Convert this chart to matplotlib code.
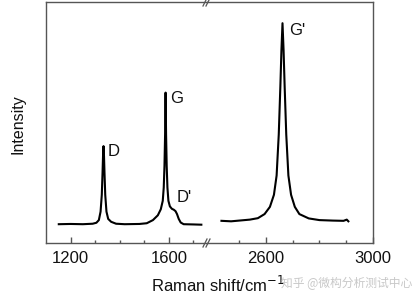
import matplotlib
matplotlib.use("Agg")
import matplotlib.pyplot as plt
from matplotlib.ticker import FixedLocator

plt.rcParams['font.family'] = ['Liberation Sans', 'DejaVu Sans']

# Left segment of spectrum (D, G, D' bands)
left_x = [1152, 1200, 1250, 1290, 1305, 1315, 1322, 1327, 1330, 1332, 1334, 1336, 1338,
          1341, 1346, 1353, 1365, 1385, 1420, 1480, 1510, 1535, 1555, 1567, 1575, 1579,
          1582, 1584.5, 1586.5, 1588.5, 1591, 1594, 1598, 1604, 1612, 1620, 1627, 1633,
          1640, 1648, 1660, 1700, 1732]
left_y = [0.078, 0.079, 0.078, 0.080, 0.084, 0.095, 0.13, 0.20, 0.29, 0.36, 0.402, 0.36, 0.29,
          0.20, 0.13, 0.10, 0.088, 0.080, 0.078, 0.079, 0.082, 0.095, 0.115, 0.14, 0.175, 0.23,
          0.32, 0.45, 0.624, 0.45, 0.32, 0.23, 0.175, 0.152, 0.142, 0.138, 0.132, 0.12,
          0.10, 0.085, 0.078, 0.077, 0.076]

# Right segment of spectrum (G' band)
right_x = [2434, 2470, 2500, 2540, 2570, 2595, 2615, 2630, 2640, 2648, 2654, 2658, 2662,
           2666, 2670, 2676, 2684, 2694, 2708, 2725, 2760, 2800, 2850, 2890, 2902, 2908]
right_y = [0.092, 0.090, 0.093, 0.097, 0.103, 0.12, 0.15, 0.20, 0.28, 0.45, 0.65, 0.80, 0.912,
           0.80, 0.65, 0.45, 0.28, 0.20, 0.15, 0.12, 0.102, 0.095, 0.093, 0.092, 0.097, 0.090]

left_major = [1200, 1600]
left_minor = [1300, 1400, 1500, 1700]
right_major = [2600, 3000]
right_minor = [2500, 2700, 2800, 2900]

# Peak labels: (text, x, y)
left_labels = [("D", 1350, 0.38), ("G", 1603, 0.60), ("D'", 1632, 0.19)]
right_labels = [("G'", 2688, 0.88)]

fig = plt.figure(figsize=(4.16, 3.02), dpi=100)
W, H = 416, 302
x0, xb, x1 = 46, 207, 373
ytop, ybot = 2, 243
bottom = (H - ybot) / H
height = (ybot - ytop) / H
axL = fig.add_axes([x0 / W, bottom, (xb - x0) / W, height])
axR = fig.add_axes([xb / W, bottom, (x1 - xb) / W, height])

spine_c = '#555555'
for ax in (axL, axR):
    ax.set_ylim(0, 1)
    ax.set_yticks([])
    for s in ax.spines.values():
        s.set_color(spine_c)
        s.set_linewidth(1.0)
    ax.tick_params(axis='x', which='both', direction='in', colors=spine_c,
                   labelcolor='#111111', labelsize=12, pad=6)
    ax.tick_params(axis='x', which='major', length=4, width=1.0)
    ax.tick_params(axis='x', which='minor', length=2.5, width=1.0)
    ax.patch.set_visible(False)

axL.spines['right'].set_visible(False)
axR.spines['left'].set_visible(False)

axL.plot(left_x, left_y, color='black', lw=1.5)
axR.plot(right_x, right_y, color='black', lw=1.5)
axL.set_xlim(1100, 1755)
axR.set_xlim(2380, 3000)

axL.xaxis.set_major_locator(FixedLocator(left_major))
axL.xaxis.set_minor_locator(FixedLocator(left_minor))
axR.xaxis.set_major_locator(FixedLocator(right_major))
axR.xaxis.set_minor_locator(FixedLocator(right_minor))
axL.set_xticklabels([str(v) for v in left_major])
axR.set_xticklabels([str(v) for v in right_major])

for t, x, y in left_labels:
    axL.text(x, y, t, fontsize=12, color='#111111', va='center', ha='left')
for t, x, y in right_labels:
    axR.text(x, y, t, fontsize=12, color='#111111', va='center', ha='left')

# Break marks
for yy in (ytop, ybot):
    for dx in (-2, 1):
        fig.add_artist(plt.Line2D([(xb + dx - 2) / W, (xb + dx + 2) / W],
                                  [(H - yy - 4) / H, (H - yy + 4) / H],
                                  color=spine_c, lw=0.9))

fig.text(18 / W, 1 - 124 / H, "Intensity", rotation=90, fontsize=11.5,
         color='#111111', ha='center', va='center')
fig.text(218 / W, 1 - 285 / H, "Raman shift/cm$^{-1}$", fontsize=12,
         color='#111111', ha='center', va='center')
fig.text(412 / W, 1 - 283 / H, "知乎 @微构分析测试中心", fontsize=8.5,
         color='#c8c8c8', ha='right', va='center',
         family=['Noto Sans CJK SC', 'DejaVu Sans'])

fig.savefig("out.png", dpi=100)
